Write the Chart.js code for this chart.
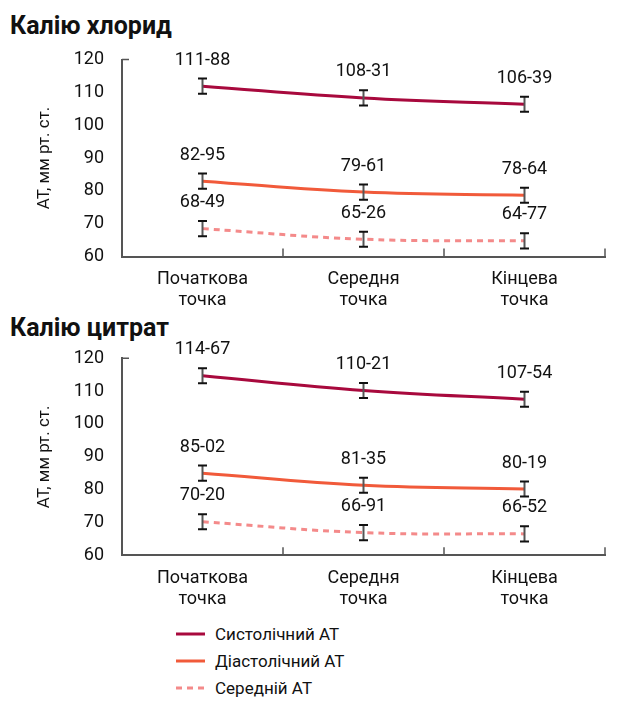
<!DOCTYPE html>
<html>
<head>
<meta charset="utf-8">
<script src="https://cdn.jsdelivr.net/npm/chart.js@4"></script>
<style>
  body { margin: 0; background: #fff; font-family: Roboto, sans-serif; color: #111; }
  #page { position: relative; width: 626px; height: 714px; }
  .title { position: absolute; left: 10px; font-weight: bold; font-size: 25px; margin: 0; }
  canvas { position: absolute; left: 0; }
  #legend { position: absolute; left: 176px; top: 620px; font-size: 17px; }
  #legend div { height: 27px; display: flex; align-items: center; }
  #legend svg { margin-right: 10px; }
</style>
</head>
<body>
<div id="page">
  <p class="title" style="top:11px">Калію хлорид</p>
  <canvas id="chloride" width="626" height="310" style="top:0"></canvas>
  <p class="title" style="top:313px">Калію цитрат</p>
  <canvas id="citrate" width="626" height="305" style="top:305px"></canvas>
  <div id="legend"></div>
</div>
<script>
// дані
const categories = [['Початкова', 'точка'], ['Середня', 'точка'], ['Кінцева', 'точка']];
const seriesNames = ['Систолічний АТ', 'Діастолічний АТ', 'Середній АТ'];
const seriesColors = ['#a8093d', '#f15a3a', '#f48a8a'];

const chlorideSys = [111.88, 108.31, 106.39];
const chlorideDia = [82.95, 79.61, 78.64];
const chlorideMean = [68.49, 65.26, 64.77];

const citrateSys = [114.67, 110.21, 107.54];
const citrateDia = [85.02, 81.35, 80.19];
const citrateMean = [70.20, 66.91, 66.52];

const errSys = [2.3, 2.3, 2.3];
const errDia = [2.3, 2.3, 2.3];
const errMean = [2.3, 2.3, 2.3];

const yTicks = [60, 70, 80, 90, 100, 110, 120];

// підписи, похибки і засічки осей
const extras = {
    id: 'extras',
    afterDatasetsDraw(chart) {
        const ctx = chart.ctx;
        const x = chart.scales.x, y = chart.scales.y;
        const area = chart.chartArea;
        ctx.save();
        chart.data.datasets.forEach(ds => {
            ds.data.forEach((v, i) => {
                const px = x.getPixelForValue(i);
                const top = y.getPixelForValue(v + ds.err[i]);
                const bot = y.getPixelForValue(v - ds.err[i]);
                ctx.strokeStyle = '#555';
                ctx.lineWidth = 2;
                ctx.beginPath();
                ctx.moveTo(px, top); ctx.lineTo(px, bot);
                ctx.stroke();
                ctx.strokeStyle = '#111';
                ctx.beginPath();
                ctx.moveTo(px - 4.5, top); ctx.lineTo(px + 4.5, top);
                ctx.moveTo(px - 4.5, bot); ctx.lineTo(px + 4.5, bot);
                ctx.stroke();
                ctx.fillStyle = '#111';
                ctx.font = '18px Roboto';
                ctx.textAlign = 'center';
                ctx.textBaseline = 'middle';
                ctx.fillText(v.toFixed(2).replace('.', '-'), px, y.getPixelForValue(v) - 26);
            });
        });
        // засічки між категоріями
        ctx.strokeStyle = '#555';
        ctx.lineWidth = 1.5;
        ctx.beginPath();
        for (let i = 0; i < categories.length; i++) {
            const bx = i < categories.length - 1
                ? (x.getPixelForValue(i) + x.getPixelForValue(i + 1)) / 2
                : area.right;
            ctx.moveTo(bx, area.bottom); ctx.lineTo(bx, area.bottom - 8);
        }
        ctx.moveTo(area.left, area.top); ctx.lineTo(area.left + 7, area.top);
        ctx.stroke();
        ctx.restore();
    }
};

function makeChart(id, sys, dia, mean, padTop) {
    const values = [sys, dia, mean];
    const errs = [errSys, errDia, errMean];
    const canvas = document.getElementById(id);
    return new Chart(canvas, {
        type: 'line',
        data: {
            labels: categories,
            datasets: values.map((v, k) => ({
                label: seriesNames[k],
                data: v,
                err: errs[k],
                borderColor: seriesColors[k],
                borderWidth: 3,
                borderDash: k === 2 ? [6, 5] : [],
                pointRadius: 0,
                tension: 0.4,
                fill: false
            }))
        },
        options: {
            responsive: false,
            animation: false,
            layout: { padding: { left: 31, right: 21, top: padTop, bottom: 0 } },
            plugins: { legend: { display: false }, tooltip: { enabled: false } },
            scales: {
                x: {
                    offset: true,
                    grid: { display: false },
                    border: { color: '#555', width: 2 },
                    ticks: { color: '#111', font: { family: 'Roboto', size: 18 }, padding: 4, maxRotation: 0 },
                    afterFit(s) { s.height = canvas.height - padTop - 197; }
                },
                y: {
                    min: yTicks[0],
                    max: yTicks[yTicks.length - 1],
                    afterBuildTicks(s) { s.ticks = yTicks.map(v => ({ value: v })); },
                    grid: { display: false },
                    border: { color: '#555', width: 2 },
                    ticks: { color: '#111', font: { family: 'Roboto', size: 18 }, padding: 10 },
                    title: { display: true, text: 'АТ, мм рт. ст.', color: '#111', font: { family: 'Roboto', size: 17 } },
                    afterFit(s) { s.width = 91; }
                }
            }
        },
        plugins: [extras]
    });
}

makeChart('chloride', chlorideSys, chlorideDia, chlorideMean, 59.5);
makeChart('citrate', citrateSys, citrateDia, citrateMean, 53.3);

// легенда
const legend = document.getElementById('legend');
seriesNames.forEach((name, k) => {
    const row = document.createElement('div');
    const dash = k === 2 ? ' stroke-dasharray="6 5"' : '';
    row.innerHTML = '<svg width="29" height="6"><line x1="0" y1="3" x2="29" y2="3" stroke="' +
        seriesColors[k] + '" stroke-width="3"' + dash + '/></svg><span>' + name + '</span>';
    legend.appendChild(row);
});
</script>
</body>
</html>
